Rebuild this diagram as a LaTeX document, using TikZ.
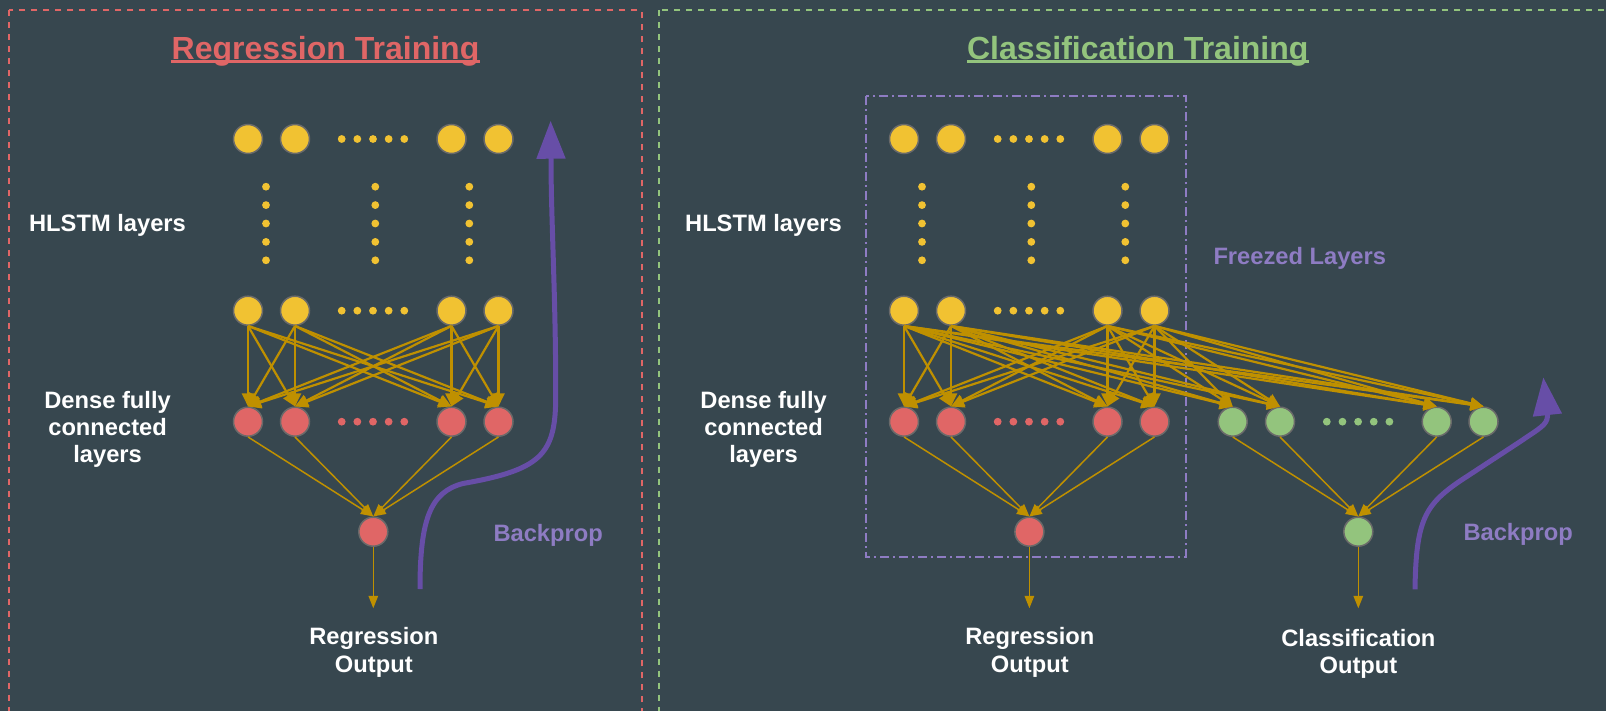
\documentclass[tikz,border=0pt]{standalone}
\usepackage{fontspec}
\setmainfont{Liberation Sans}
\usetikzlibrary{arrows.meta,calc}

\definecolor{bg}{HTML}{37474F}
\definecolor{unitY}{HTML}{F1C232}
\definecolor{unitR}{HTML}{E06666}
\definecolor{unitG}{HTML}{93C47D}
\definecolor{wire}{HTML}{BF9000}
\definecolor{purpleD}{HTML}{674EA7}
\definecolor{purpleL}{HTML}{8E7CC3}
\definecolor{ring}{HTML}{6A6A6A}

\begin{document}
\begin{tikzpicture}[x=1pt,y=-1pt,
  neuron/.style={circle,minimum size=29pt,inner sep=0pt,draw=ring,line width=1.5pt},
  dot/.style={circle,minimum size=7.8pt,inner sep=0pt},
  txt/.style={text=white,font=\bfseries\fontsize{23.7}{27.4}\selectfont,inner sep=0pt,align=center},
  heading/.style={font=\bfseries\fontsize{32}{38}\selectfont,inner sep=0pt},
  thick wire/.style={draw=wire,line width=2.2pt,-{Triangle[length=13pt,width=12pt]}},
  thin wire/.style={draw=wire,line width=1.5pt,-{Triangle[length=12.5pt,width=9.5pt]}},
  backprop arrow/.style={draw=purpleD,line width=5pt,-{Triangle[length=38pt,width=28pt]}},
  panel/.style={dash pattern=on 6pt off 6pt,line width=2pt}]

\useasboundingbox (0,0) rectangle (1606,711);
\fill[bg] (0,0) rectangle (1606,711);

% panel frames (they run past the page edge)
\begin{scope}
  \clip (0,0) rectangle (1606,711);
  \draw[panel,unitR] (8.7,10.5) rectangle (641.5,730);
  \draw[panel,unitG] (659.2,10.5) rectangle (1630,730);
\end{scope}

% titles
\node[heading,text=unitR,anchor=base] (rtitle) at (325.5,59.3) {Regression Training};
\draw[unitR,line width=2.6pt] ([yshift=-2.2pt]rtitle.base west) -- ([yshift=-2.2pt]rtitle.base east);
\node[heading,text=unitG,anchor=base] (ctitle) at (1137.7,59.3) {Classification Training};
\draw[unitG,line width=2.6pt] ([yshift=-2.2pt]ctitle.base west) -- ([yshift=-2.2pt]ctitle.base east);

% ---------------- regression network ----------------
\foreach \i/\x in {1/248,2/295,3/451.5,4/498.5} {
  \node[neuron,fill=unitY] (Lt\i) at (\x,139) {};
  \node[neuron,fill=unitY] (Lb\i) at (\x,310.7) {};
  \node[neuron,fill=unitR] (Ld\i) at (\x,421.7) {};
}
\foreach \k in {0,...,4} {
  \node[dot,fill=unitY] (Ltd\k) at ({341.7+15.65*\k},139) {};
  \node[dot,fill=unitY] (Lbd\k) at ({341.7+15.65*\k},310.7) {};
  \node[dot,fill=unitR] (Ldd\k) at ({341.7+15.65*\k},421.7) {};
}
\foreach \c/\x in {1/266,2/375.3,3/469.3}
  \foreach \k in {0,...,4}
    \node[dot,fill=unitY] (Lv\c\k) at (\x,{186.7+18.4*\k}) {};
\node[neuron,fill=unitR] (Lo) at (373.3,531.7) {};
\coordinate (Lend) at (373.3,608.3);

\foreach \i in {1,...,4}
  \foreach \j in {1,...,4}
    \draw[thick wire] (Lb\i.south) -- (Ld\j.north);
\foreach \j in {1,...,4}
  \draw[thin wire] (Ld\j.south) -- (Lo.north);
\draw[thin wire] (Lo.south) -- (Lend);

\node[txt,anchor=base] (Lhl) at (107.5,231.7) {HLSTM layers};
\node[txt,anchor=north] (Lde) at (107.6,390.7) {Dense fully\\connected\\layers};
\node[txt,anchor=north] (Lout) at (373.8,627.3) {Regression\\Output};

\coordinate (Lbp0) at (420,589);
\coordinate (Lbp1) at (550.6,120.7);
\draw[backprop arrow] (Lbp0) .. controls (420,520) and (430,492) .. (463,483.5)
  .. controls (540,470) and (555,455) .. (555.7,400)
  .. controls (556,300) and (551,220) .. (551,159) -- (Lbp1);
\node[txt,text=purpleL,anchor=base west] (Lbpt) at (493.3,541) {Backprop};

% ---------------- classification network ----------------
\draw[purpleL,line width=1.6pt,dash pattern=on 9pt off 4pt on 2pt off 4pt]
  (865.8,96) rectangle (1185.7,556.7);

\foreach \i/\x in {1/904,2/951,3/1107.5,4/1154.5} {
  \node[neuron,fill=unitY] (Rt\i) at (\x,139) {};
  \node[neuron,fill=unitY] (Rb\i) at (\x,310.7) {};
  \node[neuron,fill=unitR] (Rd\i) at (\x,421.7) {};
}
\foreach \i/\x in {1/1232.7,2/1280,3/1436.7,4/1483.5}
  \node[neuron,fill=unitG] (Rg\i) at (\x,421.7) {};
\foreach \k in {0,...,4} {
  \node[dot,fill=unitY] (Rtd\k) at ({997.7+15.65*\k},139) {};
  \node[dot,fill=unitY] (Rbd\k) at ({997.7+15.65*\k},310.7) {};
  \node[dot,fill=unitR] (Rdd\k) at ({997.7+15.65*\k},421.7) {};
  \node[dot,fill=unitG] (Rgd\k) at ({1326.8+15.65*\k},421.7) {};
}
\foreach \c/\x in {1/922,2/1031.3,3/1125.3}
  \foreach \k in {0,...,4}
    \node[dot,fill=unitY] (Rv\c\k) at (\x,{186.7+18.4*\k}) {};
\node[neuron,fill=unitR] (Ro) at (1029.4,531.7) {};
\node[neuron,fill=unitG] (Rc) at (1358.3,531.7) {};
\coordinate (Rend) at (1029.4,608.3);
\coordinate (Cend) at (1358.3,608.3);

\foreach \i in {1,...,4}
  \foreach \j in {1,...,4} {
    \draw[thick wire] (Rb\i.south) -- (Rd\j.north);
    \draw[thick wire] (Rb\i.south) -- (Rg\j.north);
  }
\foreach \j in {1,...,4} {
  \draw[thin wire] (Rd\j.south) -- (Ro.north);
  \draw[thin wire] (Rg\j.south) -- (Rc.north);
}
\draw[thin wire] (Ro.south) -- (Rend);
\draw[thin wire] (Rc.south) -- (Cend);

\node[txt,anchor=base] (Rhl) at (763.5,231.7) {HLSTM layers};
\node[txt,anchor=north] (Rde) at (763.6,390.7) {Dense fully\\connected\\layers};
\node[txt,anchor=north] (Rout) at (1029.8,627.3) {Regression\\Output};
\node[txt,anchor=north] (Cout) at (1358.4,628.8) {Classification\\Output};
\node[txt,text=purpleL,anchor=base west] (frz) at (1213.3,264.3) {Freezed Layers};

\coordinate (Rbp0) at (1415,589.3);
\coordinate (Rbp1) at (1543.3,377.3);
\draw[backprop arrow] (Rbp0) .. controls (1416,520) and (1425,505) .. (1460,481)
  -- (1520,441.7) .. controls (1540,428) and (1547,425) .. (1547.5,416) -- (Rbp1);
\node[txt,text=purpleL,anchor=base west] (Rbpt) at (1463.3,540) {Backprop};
\end{tikzpicture}
\end{document}
